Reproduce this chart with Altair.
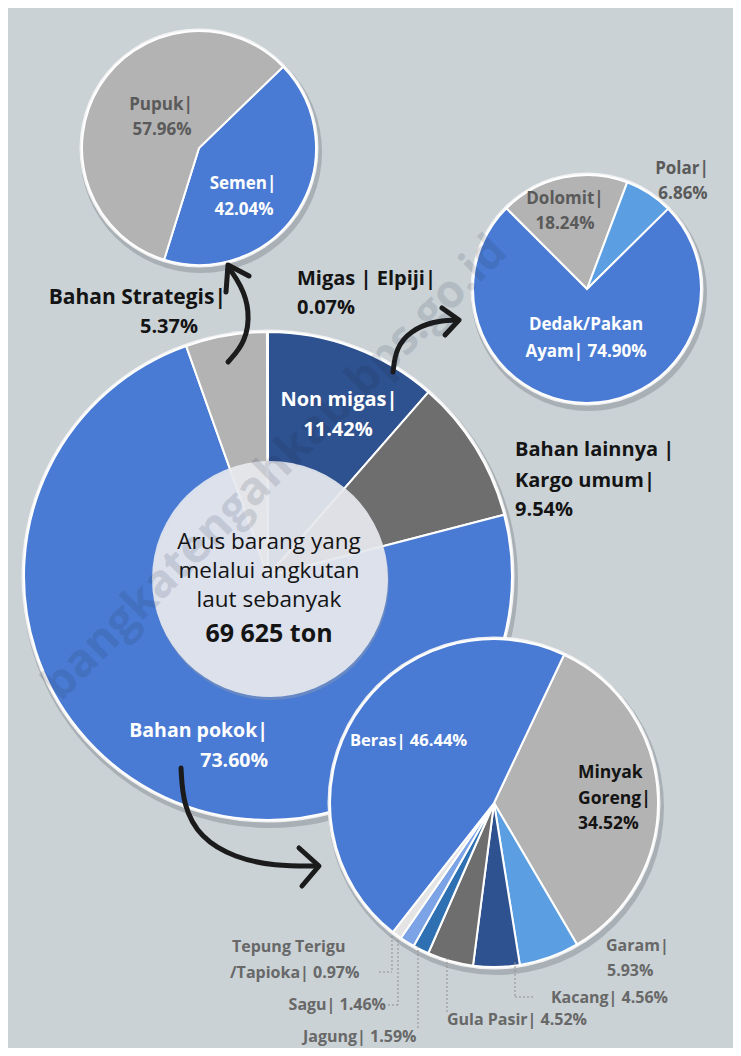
import math
import altair as alt
import pandas as pd

# ---------------- data ----------------
main_cats = ["Non migas", "Bahan lainnya | Kargo umum", "Bahan pokok", "Bahan Strategis", "Migas | Elpiji"]
main_vals = [11.42, 9.54, 73.60, 5.37, 0.07]

strat_cats = ["Semen", "Pupuk"]
strat_vals = [42.04, 57.96]

nonmigas_cats = ["Dolomit", "Polar", "Dedak/Pakan Ayam"]
nonmigas_vals = [18.24, 6.86, 74.90]

pokok_cats = ["Minyak Goreng", "Garam", "Kacang", "Gula Pasir", "Jagung", "Sagu",
              "Tepung Terigu/Tapioka", "Beras"]
pokok_vals = [34.52, 5.93, 4.56, 4.52, 1.59, 1.46, 0.97, 46.44]

total_ton = "69 625"

# ---------------- layout / style ----------------
OFF = 8
W, H = 725, 1040
BG = "#cad2d6"
FONT = "Open Sans"

BLUE = "#4a7bd4"
NAVY = "#2e5190"
DGRAY = "#6e6e6e"
LGRAY = "#b3b3b3"
LBLUE = "#5b9fe2"
STEEL = "#2e70b2"
PERI = "#7ca3e6"
WHITEISH = "#e4e4e4"

main_colors = [NAVY, DGRAY, BLUE, LGRAY, "#9a9a9a"]
strat_colors = [BLUE, LGRAY]
nonmigas_colors = [LGRAY, LBLUE, BLUE]
pokok_colors = [LGRAY, LBLUE, NAVY, DGRAY, STEEL, PERI, WHITEISH, BLUE]

# pie geometry (image pixel coords): cx, cy, r, start angle (deg, clockwise from 12h)
G_MAIN = (268, 576, 244, 0)
G_STRAT = (199, 148, 117, 46)
G_NONM = (587, 289, 114, 315)
G_POKOK = (494, 803, 164, 25.3)


def px(v):
    return v - OFF


def circle(cx, cy, r, color, opacity=1.0, dx=0, dy=0):
    d = pd.DataFrame({"k": [0]})
    return alt.Chart(d).mark_arc(theta=0, theta2=2 * math.pi, radius=r, color=color,
                                 opacity=opacity).encode(
        x=alt.value(px(cx + dx)), y=alt.value(px(cy + dy)))


def pie(cats, vals, colors, geom, sw=2):
    cx, cy, r, a = geom
    a0 = math.radians(a)
    d = pd.DataFrame({"cat": cats, "val": vals, "idx": list(range(len(cats)))})
    return alt.Chart(d).mark_arc(radius=r, stroke="white", strokeWidth=sw).encode(
        theta=alt.Theta("val:Q", stack=True, scale=alt.Scale(range=[a0, a0 + 2 * math.pi])),
        color=alt.Color("cat:N", scale=alt.Scale(domain=cats, range=colors), legend=None),
        order=alt.Order("idx:Q"),
        x=alt.value(px(cx)), y=alt.value(px(cy)),
    )


def pct(v):
    return f"{v:.2f}%"


# text rows: text, x, baseline y, size, color, align, weight
WH = "#ffffff"
BK = "#141414"
GR = "#5a5a5a"
LG = "#686868"
rows = [
    # big pie
    (f"{main_cats[3]}|", 226, 304, 21, BK, "right", "bold"),
    (pct(main_vals[3]), 198, 333, 20, BK, "right", "bold"),
    ("Migas | Elpiji|", 297, 285, 20, BK, "left", "bold"),
    (pct(main_vals[4]), 297, 314, 20, BK, "left", "bold"),
    (f"{main_cats[0]}|", 339, 406, 20, WH, "center", "bold"),
    (pct(main_vals[0]), 338, 436, 20, WH, "center", "bold"),
    ("Bahan lainnya |", 515, 456, 20, BK, "left", "bold"),
    ("Kargo umum|", 515, 487, 20, BK, "left", "bold"),
    (pct(main_vals[1]), 515, 516, 20, BK, "left", "bold"),
    (f"{main_cats[2]}|", 268, 737, 19.5, WH, "right", "bold"),
    (pct(main_vals[2]), 268, 767, 19.5, WH, "right", "bold"),
    # centre
    ("Arus barang yang", 269, 549, 22.5, BK, "center", "normal"),
    ("melalui angkutan", 269, 578, 22.5, BK, "center", "normal"),
    ("laut sebanyak", 269, 607, 22.5, BK, "center", "normal"),
    (f"{total_ton} ton", 269, 642, 25, BK, "center", "bold"),
    # strategis pie
    (f"{strat_cats[1]}|", 161, 110, 17, GR, "center", "bold"),
    (pct(strat_vals[1]), 162, 135, 17, GR, "center", "bold"),
    (f"{strat_cats[0]}|", 243, 189, 17, WH, "center", "bold"),
    (pct(strat_vals[0]), 244, 215, 17, WH, "center", "bold"),
    # non migas pie
    (f"{nonmigas_cats[0]}|", 565, 204, 17, GR, "center", "bold"),
    (pct(nonmigas_vals[0]), 565, 229, 17, GR, "center", "bold"),
    (f"{nonmigas_cats[1]}|", 682, 174, 17, GR, "center", "bold"),
    (pct(nonmigas_vals[1]), 683, 199, 17, GR, "center", "bold"),
    ("Dedak/Pakan", 586, 330, 17, WH, "center", "bold"),
    (f"Ayam| {pct(nonmigas_vals[2])}", 586, 357, 17, WH, "center", "bold"),
    # pokok pie
    (f"{pokok_cats[7]}| {pct(pokok_vals[7])}", 350, 746, 16.5, WH, "left", "bold"),
    ("Minyak", 578, 778, 17.5, BK, "left", "bold"),
    ("Goreng|", 578, 804, 17.5, BK, "left", "bold"),
    (pct(pokok_vals[0]), 578, 829, 17.5, BK, "left", "bold"),
    (f"{pokok_cats[1]}|", 606, 951, 16, LG, "left", "bold"),
    (pct(pokok_vals[1]), 607, 976, 16, LG, "left", "bold"),
    (f"{pokok_cats[2]}| {pct(pokok_vals[2])}", 668, 1003, 16, LG, "right", "bold"),
    (f"{pokok_cats[3]}| {pct(pokok_vals[3])}", 447, 1025, 16, LG, "left", "bold"),
    (f"{pokok_cats[4]}| {pct(pokok_vals[4])}", 303, 1042, 16, LG, "left", "bold"),
    (f"{pokok_cats[5]}| {pct(pokok_vals[5])}", 386, 1010, 16, LG, "right", "bold"),
    ("Tepung Terigu", 232, 952, 16, LG, "left", "bold"),
    (f"/Tapioka| {pct(pokok_vals[6])}", 230, 978, 16, LG, "left", "bold"),
]
tdf = pd.DataFrame(rows, columns=["t", "x", "y", "s", "c", "align", "w"])
tdf["x"] = tdf["x"] - OFF
tdf["y"] = tdf["y"] - OFF


def text_layer(align, weight):
    d = tdf[(tdf["align"] == align) & (tdf["w"] == weight)]
    return alt.Chart(d).mark_text(align=align, baseline="alphabetic", font=FONT,
                                  fontWeight=weight).encode(
        x=alt.X("x:Q", scale=None, axis=None),
        y=alt.Y("y:Q", scale=None, axis=None),
        text="t:N",
        color=alt.Color("c:N", scale=None),
        size=alt.Size("s:Q", scale=None),
    )


text_layers = [text_layer(a, w) for a in ["left", "center", "right"] for w in ["bold", "normal"]
               if len(tdf[(tdf["align"] == a) & (tdf["w"] == w)])]

# hand-drawn arrows (decoration, image px)
arrow_paths = {
    "a1": [(228, 362), (246, 342), (250, 310), (241, 285), (229, 268)],
    "a2": [(393, 372), (396, 348), (410, 331), (434, 321), (456, 320)],
    "a3": [(181, 768), (183, 805), (200, 838), (235, 858), (275, 866), (316, 866)],
}
arrow_heads = {
    "h1": [(226, 292), (228, 265), (249, 276)],
    "h2": [(442, 308), (459, 320), (445, 335)],
    "h3": [(299, 848), (319, 866), (302, 886)],
}


def poly_df(dct):
    recs = []
    for k, pts in dct.items():
        for i, (x, y) in enumerate(pts):
            recs.append({"id": k, "o": i, "x": x - OFF, "y": y - OFF})
    return pd.DataFrame(recs)


arrows = alt.Chart(poly_df(arrow_paths)).mark_line(
    interpolate="basis", strokeWidth=5, color="#1b1b1b", strokeCap="round").encode(
    x=alt.X("x:Q", scale=None, axis=None), y=alt.Y("y:Q", scale=None, axis=None),
    detail="id:N", order="o:Q")
heads = alt.Chart(poly_df(arrow_heads)).mark_line(
    strokeWidth=5, color="#1b1b1b", strokeCap="round", strokeJoin="round").encode(
    x=alt.X("x:Q", scale=None, axis=None), y=alt.Y("y:Q", scale=None, axis=None),
    detail="id:N", order="o:Q")

# leader lines for the small slices of the pokok pie
leaders = pd.DataFrame([
    (379, 972, 392, 972), (392, 936, 392, 972),
    (388, 1005, 398, 1005), (398, 940, 398, 1005),
    (418, 946, 418, 1028),
    (447, 958, 447, 1012),
    (515, 997, 534, 997), (515, 962, 515, 997),
], columns=["x", "y", "x2", "y2"]) - OFF
leader_layer = alt.Chart(leaders).mark_rule(color="#8f8f8f", strokeWidth=1,
                                            strokeDash=[2, 2]).encode(
    x=alt.X("x:Q", scale=None, axis=None), y=alt.Y("y:Q", scale=None, axis=None),
    x2="x2:Q", y2="y2:Q")

watermark = alt.Chart(pd.DataFrame({"t": ["bangkatengahkab.bps.go.id"]})).mark_text(
    angle=315, font=FONT, fontWeight="bold", fontSize=46, color="#1e2a40", opacity=0.13).encode(
    text="t:N", x=alt.value(px(275)), y=alt.value(px(468)))


def shadowed(geom):
    cx, cy, r, _ = geom
    return [circle(cx, cy, r + 4, "#6b7378", 0.35, 2, 4),
            circle(cx, cy, r + 2.5, "#f4f4f4", 0.95)]


layers = []
layers += shadowed(G_MAIN)
layers.append(pie(main_cats, main_vals, main_colors, G_MAIN, 2))
layers.append(circle(G_MAIN[0] + 2, G_MAIN[1] + 3, 118, "#9aa0a8", 0.35, 1, 3))
layers.append(circle(G_MAIN[0] + 2, G_MAIN[1] + 3, 118, "#e9ebef", 0.9))
for g, args in [(G_STRAT, (strat_cats, strat_vals, strat_colors)),
                (G_NONM, (nonmigas_cats, nonmigas_vals, nonmigas_colors)),
                (G_POKOK, (pokok_cats, pokok_vals, pokok_colors))]:
    layers += shadowed(g)
    layers.append(pie(*args, g, 2))
layers += [leader_layer, arrows, heads, watermark]
layers += text_layers

chart = alt.layer(*layers).resolve_scale(theta="independent", color="independent").properties(
    width=W, height=H, padding=0, autosize="none", background=BG
).configure_view(stroke=None)

chart.save("out.html", embed_options={"renderer": "svg", "actions": False})
